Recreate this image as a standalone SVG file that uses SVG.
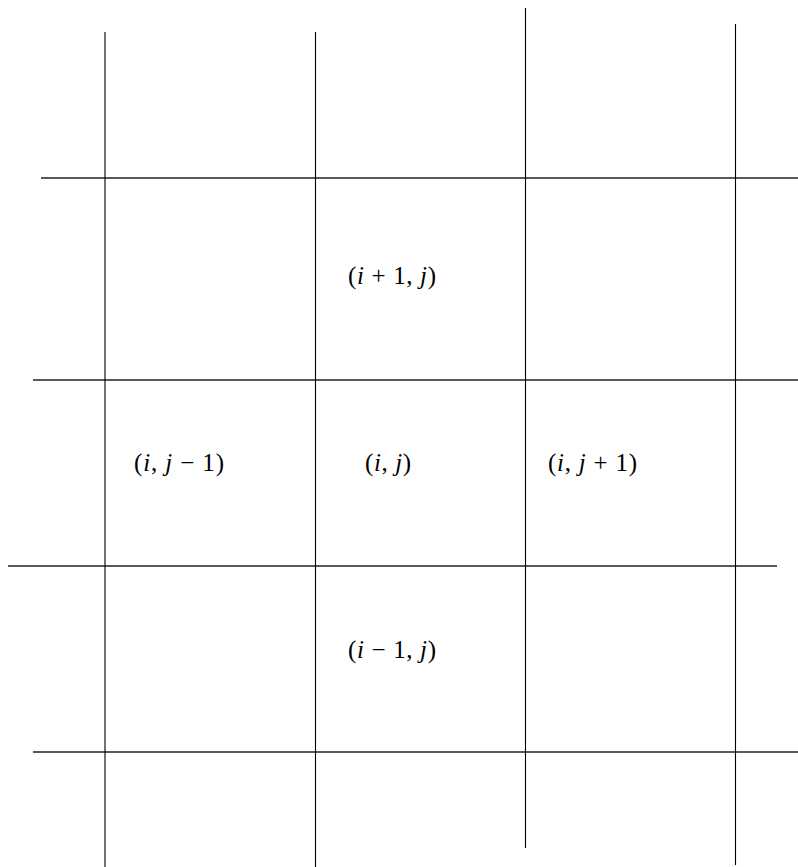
<svg xmlns="http://www.w3.org/2000/svg" width="798" height="867" viewBox="0 0 798 867">
<style>
.h{stroke:#222;stroke-width:1.4;fill:none}
.v{stroke:#000;stroke-width:1.1;fill:none}
.t{font-family:"Liberation Serif","Times New Roman",serif;font-size:25px;fill:#000}
.it{font-style:italic}
</style>
<rect width="798" height="867" fill="#fff"/>
<g id="connectors">
<line class="h" x1="41" y1="178" x2="798" y2="178"/>
<line class="h" x1="33" y1="380" x2="798" y2="380"/>
<line class="h" x1="8" y1="566" x2="777" y2="566"/>
<line class="h" x1="33" y1="752" x2="798" y2="752"/>
<line class="v" x1="105" y1="32" x2="105" y2="867"/>
<line class="v" x1="315.5" y1="32" x2="315.5" y2="867"/>
<line class="v" x1="525.5" y1="8" x2="525.5" y2="848"/>
<line class="v" x1="735.5" y1="24" x2="735.5" y2="865"/>
</g>
<g id="n_ip1_j"><text class="t" x="348" y="284" textLength="88" lengthAdjust="spacing">(<tspan class="it">i</tspan> + 1, <tspan class="it">j</tspan>)</text></g>
<g id="n_i_jm1"><text class="t" x="134" y="471" textLength="90" lengthAdjust="spacing">(<tspan class="it">i</tspan>, <tspan class="it">j</tspan> − 1)</text></g>
<g id="n_i_j"><text class="t" x="365" y="471" textLength="46" lengthAdjust="spacing">(<tspan class="it">i</tspan>, <tspan class="it">j</tspan>)</text></g>
<g id="n_i_jp1"><text class="t" x="548" y="471" textLength="89" lengthAdjust="spacing">(<tspan class="it">i</tspan>, <tspan class="it">j</tspan> + 1)</text></g>
<g id="n_im1_j"><text class="t" x="348" y="658" textLength="88" lengthAdjust="spacing">(<tspan class="it">i</tspan> − 1, <tspan class="it">j</tspan>)</text></g>
</svg>
